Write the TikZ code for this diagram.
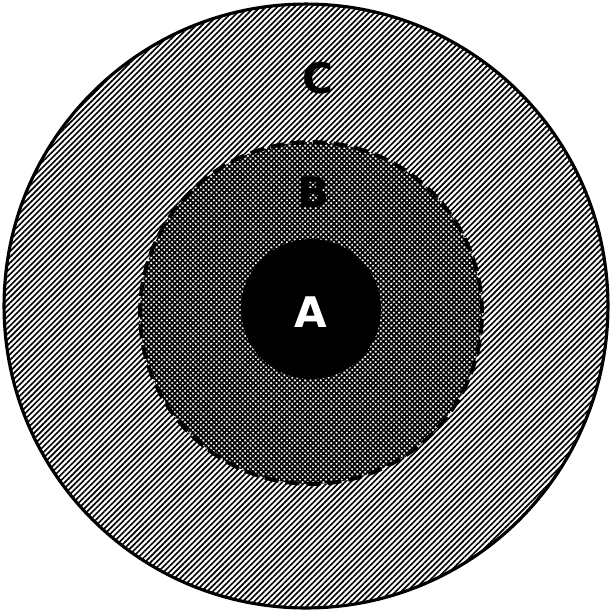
\documentclass[tikz,border=0pt]{standalone}
\usepackage{fontspec}
\setsansfont{DejaVu Sans}
\usetikzlibrary{patterns.meta, positioning}

\begin{document}
\begin{tikzpicture}[
        x=0.02cm, y=-0.02cm,
        every node/.style={circle, inner sep=0pt},
        zone/.style={draw=black, line width=1.8pt},
        outerzone/.style={zone, minimum size=12.08cm,
            pattern={Lines[angle=45, distance=2.3pt, line width=0.95pt]}},
        midzone/.style={zone, line width=2.2pt, dash pattern=on 8pt off 4pt, minimum size=6.84cm,
            fill=white, postaction={pattern={Hatch[angle=45, distance=2.1pt, line width=1.0pt]}}},
        corezone/.style={fill=black, minimum size=2.8cm},
        zonelabel/.style={font=\sffamily\bfseries\fontsize{24}{24}\selectfont}
    ]
    \useasboundingbox (0,0) rectangle (611,610);
    \node[outerzone] (c) at (306,306) {};
    \node[midzone]   (b) at (311,313) {};
    \node[corezone]  (a) at (311,309) {};
    \node[zonelabel] (clabel) at (318,78)  {C};
    \node[zonelabel] (blabel) at (314,192) {B};
    \node[zonelabel, text=white] (alabel) at (311,312) {A};
\end{tikzpicture}
\end{document}
